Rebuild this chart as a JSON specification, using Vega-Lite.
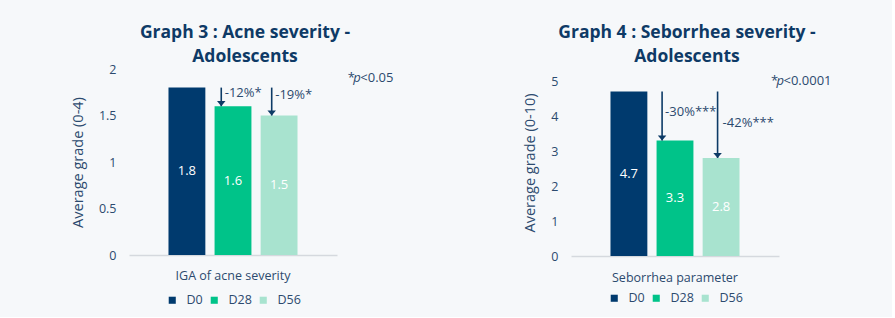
{
  "$schema": "https://vega.github.io/schema/vega-lite/v6.json",
  "background": "#f6f8fa",
  "padding": {"left": 70, "top": 23, "right": 60, "bottom": 10},
  "spacing": 128,
  "align": "none",
  "resolve": {"scale": {"color": "independent", "xOffset": "independent"}},
  "config": {
    "font": "Open Sans",
    "view": {"stroke": null},
    "axis": {"grid": false, "ticks": false, "domain": false, "labelColor": "#2c4a6e", "titleColor": "#2c4a6e", "titleFontWeight": "normal", "labelFontSize": 12.5, "titleFontSize": 14.5, "labelFont": "Open Sans", "titleFont": "Open Sans", "labelOverlap": false},
    "axisY": {"labelPadding": 13, "titlePadding": 13},
    "axisX": {"domain": true, "domainColor": "#d5d9de", "domainWidth": 1.5, "labelPadding": 14, "labelAngle": 0},
    "title": {"fontSize": 17.5, "fontWeight": "bold", "color": "#0e3a66", "anchor": "middle", "frame": "group", "dx": 12, "lineHeight": 24, "font": "Open Sans"},
    "legend": {"orient": "bottom", "direction": "horizontal", "gridAlign": "none", "symbolType": "square", "symbolSize": 50, "symbolStrokeWidth": 0, "labelFontSize": 12.5, "labelFont": "Open Sans", "labelColor": "#2c4a6e", "columnPadding": 5, "labelOffset": 8, "layout": {"bottom": {"anchor": "middle"}}},
    "text": {"font": "Open Sans"}
  },
  "hconcat": [
    {
      "title": {"text": ["Graph 3 : Acne severity -", "Adolescents"], "offset": -2},
      "width": 208,
      "height": 186,
      "data": {"values": [
        {"parameter": "IGA of acne severity", "day": "D0", "value": 1.8},
        {"parameter": "IGA of acne severity", "day": "D28", "value": 1.6},
        {"parameter": "IGA of acne severity", "day": "D56", "value": 1.5}
      ]},
      "resolve": {"scale": {"y": "independent"}},
      "layer": [
        {
          "layer": [
            {
              "mark": {"type": "bar"},
              "encoding": {
                "x": {"field": "parameter", "type": "nominal", "scale": {"paddingInner": 0, "paddingOuter": 0.306}, "axis": {"title": null}},
                "xOffset": {"field": "day", "type": "nominal", "scale": {"paddingInner": 0.2, "paddingOuter": 0}},
                "y": {"field": "value", "type": "quantitative", "scale": {"domain": [0, 2]}, "axis": {"title": "Average grade (0-4)", "values": [0, 0.5, 1, 1.5, 2], "tickCount": 10, "format": "~g", "labelOverlap": false}},
                "color": {"field": "day", "type": "nominal", "scale": {"domain": ["D0", "D28", "D56"], "range": ["#003a6e", "#00c389", "#a8e3cf"]}, "legend": {"title": null, "offset": 12}}
              }
            },
            {
              "data": {"values": [{"parameter": "IGA of acne severity", "from": 1.8, "to": 1.6, "label": "-12%*"}]},
              "encoding": {"x": {"field": "parameter", "type": "nominal", "bandPosition": 0.409}},
              "layer": [
                {"mark": {"type": "rule", "color": "#0d3b66", "strokeWidth": 1.6}, "encoding": {"y": {"field": "from", "type": "quantitative"}, "y2": {"field": "to"}}},
                {"mark": {"type": "point", "shape": "M-1,-1.2L1,-1.2L0,0Z", "filled": true, "size": 72, "color": "#0d3b66", "opacity": 1, "strokeWidth": 0}, "encoding": {"y": {"field": "to", "type": "quantitative"}}},
                {"mark": {"type": "text", "align": "left", "baseline": "middle", "dx": 3.5, "dy": 5.5, "fontSize": 13, "color": "#2c4a6e"}, "encoding": {"y": {"field": "from", "type": "quantitative"}, "text": {"field": "label"}}}
              ]
            },
            {
              "data": {"values": [{"parameter": "IGA of acne severity", "from": 1.8, "to": 1.5, "label": "-19%*"}]},
              "encoding": {"x": {"field": "parameter", "type": "nominal", "bandPosition": 0.80}},
              "layer": [
                {"mark": {"type": "rule", "color": "#0d3b66", "strokeWidth": 1.6}, "encoding": {"y": {"field": "from", "type": "quantitative"}, "y2": {"field": "to"}}},
                {"mark": {"type": "point", "shape": "M-1,-1.2L1,-1.2L0,0Z", "filled": true, "size": 72, "color": "#0d3b66", "opacity": 1, "strokeWidth": 0}, "encoding": {"y": {"field": "to", "type": "quantitative"}}},
                {"mark": {"type": "text", "align": "left", "baseline": "middle", "dx": 3.5, "dy": 7.5, "fontSize": 13, "color": "#2c4a6e"}, "encoding": {"y": {"field": "from", "type": "quantitative"}, "text": {"field": "label"}}}
              ]
            },
            {
              "data": {"values": [{"parameter": "IGA of acne severity", "threshold": "<0.05"}]},
              "encoding": {"x": {"field": "parameter", "type": "nominal", "bandPosition": 1.39}, "y": {"datum": 1.9, "type": "quantitative"}},
              "layer": [
                {"mark": {"type": "text", "text": "*", "align": "left", "baseline": "middle", "fontSize": 13, "color": "#2c4a6e"}, "encoding": {}},
                {"mark": {"type": "text", "text": "p", "fontStyle": "italic", "align": "left", "baseline": "middle", "dx": 5.5, "fontSize": 13, "color": "#2c4a6e"}, "encoding": {}},
                {"mark": {"type": "text", "align": "left", "baseline": "middle", "dx": 12.5, "fontSize": 13, "color": "#2c4a6e"}, "encoding": {"text": {"field": "threshold"}}}
              ]
            }
          ]
        },
        {
          "mark": {"type": "text", "color": "white", "fontSize": 13, "baseline": "middle"},
          "encoding": {
            "x": {"field": "parameter", "type": "nominal"},
            "xOffset": {"field": "day", "type": "nominal"},
            "y": {"field": "value", "type": "quantitative", "scale": {"domain": [0, 4]}, "axis": null},
            "text": {"field": "value", "type": "quantitative", "format": ".1f"}
          }
        }
      ]
    },
    {
      "title": {"text": ["Graph 4 : Seborrhea severity -", "Adolescents"], "offset": 4},
      "width": 208,
      "height": 187,
      "data": {"values": [
        {"parameter": "Seborrhea parameter", "day": "D0", "value": 4.7},
        {"parameter": "Seborrhea parameter", "day": "D28", "value": 3.3},
        {"parameter": "Seborrhea parameter", "day": "D56", "value": 2.8}
      ]},
      "resolve": {"scale": {"y": "independent"}},
      "layer": [
        {
          "layer": [
            {
              "mark": {"type": "bar"},
              "encoding": {
                "x": {"field": "parameter", "type": "nominal", "scale": {"paddingInner": 0, "paddingOuter": 0.306}, "axis": {"title": null, "labelPadding": 15}},
                "xOffset": {"field": "day", "type": "nominal", "scale": {"paddingInner": 0.2, "paddingOuter": 0}},
                "y": {"field": "value", "type": "quantitative", "scale": {"domain": [0, 5.343], "nice": false}, "axis": {"title": "Average grade (0-10)", "values": [0, 1, 2, 3, 4, 5], "tickCount": 10, "format": "d", "labelOverlap": false}},
                "color": {"field": "day", "type": "nominal", "scale": {"domain": ["D0", "D28", "D56"], "range": ["#003a6e", "#00c389", "#a8e3cf"]}, "legend": {"title": null, "offset": 8}}
              }
            },
            {
              "data": {"values": [{"parameter": "Seborrhea parameter", "from": 4.7, "to": 3.3, "label": "-30%***"}]},
              "encoding": {"x": {"field": "parameter", "type": "nominal", "bandPosition": 0.40}},
              "layer": [
                {"mark": {"type": "rule", "color": "#0d3b66", "strokeWidth": 1.6}, "encoding": {"y": {"field": "from", "type": "quantitative"}, "y2": {"field": "to"}}},
                {"mark": {"type": "point", "shape": "M-1,-1.2L1,-1.2L0,0Z", "filled": true, "size": 72, "color": "#0d3b66", "opacity": 1, "strokeWidth": 0}, "encoding": {"y": {"field": "to", "type": "quantitative"}}},
                {"mark": {"type": "text", "align": "left", "baseline": "middle", "dx": 3, "dy": 20.5, "fontSize": 13, "color": "#2c4a6e"}, "encoding": {"y": {"field": "from", "type": "quantitative"}, "text": {"field": "label"}}}
              ]
            },
            {
              "data": {"values": [{"parameter": "Seborrhea parameter", "from": 4.7, "to": 2.8, "label": "-42%***"}]},
              "encoding": {"x": {"field": "parameter", "type": "nominal", "bandPosition": 0.83}},
              "layer": [
                {"mark": {"type": "rule", "color": "#0d3b66", "strokeWidth": 1.6}, "encoding": {"y": {"field": "from", "type": "quantitative"}, "y2": {"field": "to"}}},
                {"mark": {"type": "point", "shape": "M-1,-1.2L1,-1.2L0,0Z", "filled": true, "size": 72, "color": "#0d3b66", "opacity": 1, "strokeWidth": 0}, "encoding": {"y": {"field": "to", "type": "quantitative"}}},
                {"mark": {"type": "text", "align": "left", "baseline": "middle", "dx": 5, "dy": 31, "fontSize": 13, "color": "#2c4a6e"}, "encoding": {"y": {"field": "from", "type": "quantitative"}, "text": {"field": "label"}}}
              ]
            },
            {
              "data": {"values": [{"parameter": "Seborrhea parameter", "threshold": "<0.0001"}]},
              "encoding": {"x": {"field": "parameter", "type": "nominal", "bandPosition": 1.244}, "y": {"datum": 5, "type": "quantitative"}},
              "layer": [
                {"mark": {"type": "text", "text": "*", "align": "left", "baseline": "middle", "fontSize": 13, "color": "#2c4a6e"}, "encoding": {}},
                {"mark": {"type": "text", "text": "p", "fontStyle": "italic", "align": "left", "baseline": "middle", "dx": 5.5, "fontSize": 13, "color": "#2c4a6e"}, "encoding": {}},
                {"mark": {"type": "text", "align": "left", "baseline": "middle", "dx": 12.5, "fontSize": 13, "color": "#2c4a6e"}, "encoding": {"text": {"field": "threshold"}}}
              ]
            }
          ]
        },
        {
          "mark": {"type": "text", "color": "white", "fontSize": 13, "baseline": "middle"},
          "encoding": {
            "x": {"field": "parameter", "type": "nominal"},
            "xOffset": {"field": "day", "type": "nominal"},
            "y": {"field": "value", "type": "quantitative", "scale": {"domain": [0, 10.686], "nice": false}, "axis": null},
            "text": {"field": "value", "type": "quantitative", "format": ".1f"}
          }
        }
      ]
    }
  ]
}
